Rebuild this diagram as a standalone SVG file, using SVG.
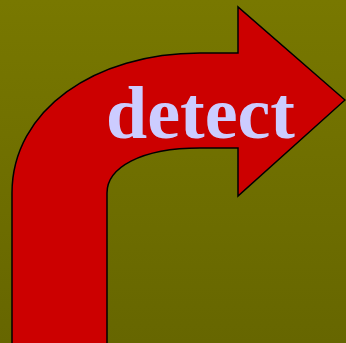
<svg xmlns="http://www.w3.org/2000/svg" width="346" height="343" viewBox="0 0 346 343">
<defs>
<linearGradient id="bg" x1="0" y1="0" x2="0" y2="1">
<stop offset="0" stop-color="#787800"/>
<stop offset="1" stop-color="#666600"/>
</linearGradient>
<style>
.arrow{fill:#cc0000;stroke:#000;stroke-width:1.5;stroke-linejoin:miter}
.lbl{font-family:"Liberation Serif",serif;font-weight:bold;font-size:74px;fill:#ccccff}
</style>
</defs>
<rect width="346" height="343" fill="url(#bg)"/>
<g id="arrow">
<path class="arrow" d="M12,344 L12,193 C12,110 95,53 200,53 L238,53 L238,7 L345,100 L238,196 L238,148 L200,148 C140,148 107,168 107,193 L107,344 Z"/>
<text class="lbl" x="106" y="138">detect</text>
</g>
</svg>
